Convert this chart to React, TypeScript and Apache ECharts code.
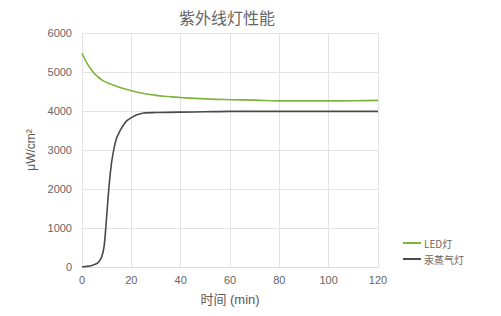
import React, { useEffect, useRef } from "react";
import * as echarts from "echarts";

const title = "紫外线灯性能";
const xName = "时间 (min)";
const yName = "μW/cm²";
const seriesNames = ["LED灯", "汞蒸气灯"];

const ledT = [0, 2, 4, 6, 8, 10, 12, 15, 20, 25, 30, 35, 40, 50, 60, 70, 80, 90, 100, 110, 120];
const ledV = [5480, 5230, 5040, 4900, 4800, 4730, 4680, 4610, 4520, 4450, 4400, 4370, 4345, 4310, 4290, 4280, 4260, 4260, 4260, 4262, 4272];

const hgT = [0, 2, 4, 6, 7, 8, 9, 10, 11, 12, 13, 14, 15, 16, 18, 20, 22, 25, 30, 40, 50, 60, 80, 100, 120];
const hgV = [0, 15, 40, 90, 150, 260, 550, 1300, 2100, 2680, 3050, 3300, 3440, 3560, 3740, 3830, 3900, 3950, 3960, 3970, 3980, 3990, 3990, 3990, 3990];

const FONT = "Liberation Sans, Arial, Noto Sans CJK SC, sans-serif";

export default function App() {
  const ref = useRef<HTMLDivElement>(null);
  useEffect(() => {
    if (!ref.current) return;
    const chart = echarts.init(ref.current, null, { renderer: "svg" });
    chart.setOption({
      animation: false,
      backgroundColor: "#ffffff",
      title: {
        text: title,
        left: 222,
        top: 4,
        textAlign: "center",
        textStyle: { fontSize: 16, fontWeight: "normal", color: "#666666", fontFamily: "Noto Sans CJK SC, sans-serif" },
      },
      grid: { left: 82, right: 123, top: 33, bottom: 49, containLabel: false },
      legend: {
        orient: "vertical",
        left: 398,
        top: 233,
        itemWidth: 18,
        itemHeight: 2,
        itemGap: 6,
        icon: "rect",
        textStyle: { fontSize: 10, color: "#666666", fontFamily: "Noto Sans CJK SC, sans-serif", padding: [0, 0, 0, -2] },
        data: seriesNames,
      },
      xAxis: {
        type: "value",
        min: 0,
        max: 120,
        interval: 20,
        name: xName,
        nameLocation: "middle",
        nameGap: 26,
        nameTextStyle: { fontSize: 13, color: "#595959", fontFamily: FONT },
        axisLine: { show: true, lineStyle: { color: "#d9d9d9" } },
        axisTick: { show: false },
        axisLabel: { fontSize: 11, color: "#666666", fontFamily: FONT, margin: 7 },
        splitLine: { show: true, lineStyle: { color: "#e3e3e3" } },
      },
      yAxis: {
        type: "value",
        min: 0,
        max: 6000,
        interval: 1000,
        name: yName,
        nameLocation: "middle",
        nameGap: 43,
        nameTextStyle: { fontSize: 12, color: "#595959", fontFamily: FONT },
        axisLine: { show: true, lineStyle: { color: "#e3e3e3" } },
        axisTick: { show: false },
        axisLabel: { fontSize: 11, color: "#666666", fontFamily: FONT, margin: 10, formatter: (v: number) => String(v) },
        splitLine: { show: true, lineStyle: { color: "#e3e3e3" } },
      },
      series: [
        {
          name: seriesNames[0],
          type: "line",
          smooth: true,
          showSymbol: false,
          data: ledT.map((t, i) => [t, ledV[i]]),
          lineStyle: { color: "#7db43a", width: 1.6 },
          itemStyle: { color: "#7db43a" },
        },
        {
          name: seriesNames[1],
          type: "line",
          smooth: 0.3,
          showSymbol: false,
          data: hgT.map((t, i) => [t, hgV[i]]),
          lineStyle: { color: "#4a4a4a", width: 1.6 },
          itemStyle: { color: "#4a4a4a" },
        },
      ],
    });
    return () => chart.dispose();
  }, []);
  return <div ref={ref} style={{ position: "fixed", left: 0, top: 0, width: 501, height: 316 }} />;
}
